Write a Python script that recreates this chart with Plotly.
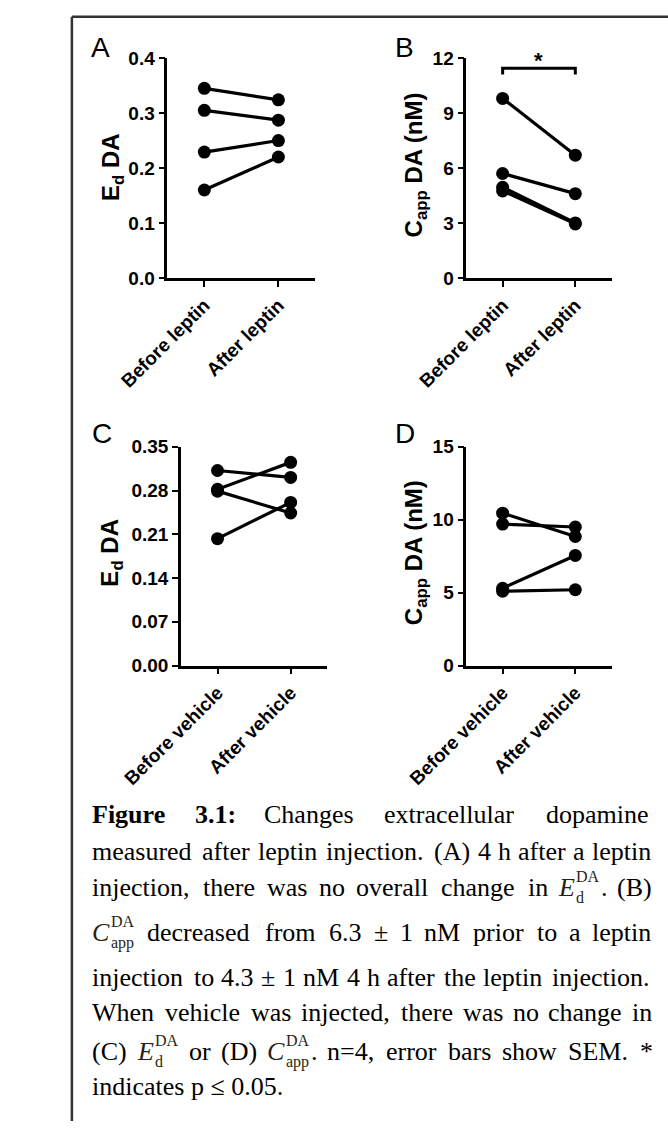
import plotly.graph_objects as go

W, H = 668, 1132

# ---------------- data ----------------
leptin_categories = ["Before leptin", "After leptin"]
vehicle_categories = ["Before vehicle", "After vehicle"]

ed_leptin_before = [0.345, 0.305, 0.229, 0.160]
ed_leptin_after = [0.324, 0.287, 0.250, 0.220]

capp_leptin_before = [9.8, 5.7, 4.95, 4.75]
capp_leptin_after = [6.7, 4.6, 3.0, 2.95]

ed_vehicle_before = [0.312, 0.282, 0.279, 0.203]
ed_vehicle_after = [0.301, 0.325, 0.244, 0.261]

capp_vehicle_before = [10.45, 9.7, 5.3, 5.1]
capp_vehicle_after = [8.85, 9.5, 7.55, 5.2]

ed_leptin_ticks = [0.0, 0.1, 0.2, 0.3, 0.4]
capp_leptin_ticks = [0, 3, 6, 9, 12]
ed_vehicle_ticks = [0.00, 0.07, 0.14, 0.21, 0.28, 0.35]
capp_vehicle_ticks = [0, 5, 10, 15]

sig_bracket_y = 11.45
sig_bracket_drop = 0.35
sig_star_y = 11.85

# ---------------- layout helpers ----------------
def px(x):
    return x / W


def py(y):
    return 1 - y / H


panels = [
    dict(letter="A", x0=117, x1=280, ytop=49, ybot=273, cats=leptin_categories,
         before=ed_leptin_before, after=ed_leptin_after, ticks=ed_leptin_ticks,
         fmt="{:.1f}", title="E<sub>d</sub> DA", title_xy=(56, 160), letter_xy=(43, 38)),
    dict(letter="B", x0=446, x1=606, ytop=49, ybot=273, cats=leptin_categories,
         before=capp_leptin_before, after=capp_leptin_after, ticks=capp_leptin_ticks,
         fmt="{:.0f}", title="C<sub>app</sub> DA (nM)", title_xy=(390, 158), letter_xy=(378, 38)),
    dict(letter="C", x0=132, x1=293, ytop=445, ybot=668, cats=vehicle_categories,
         before=ed_vehicle_before, after=ed_vehicle_after, ticks=ed_vehicle_ticks,
         fmt="{:.2f}", title="E<sub>d</sub> DA", title_xy=(56, 553), letter_xy=(45, 432)),
    dict(letter="D", x0=446, x1=606, ytop=445, ybot=668, cats=vehicle_categories,
         before=capp_vehicle_before, after=capp_vehicle_after, ticks=capp_vehicle_ticks,
         fmt="{:.0f}", title="C<sub>app</sub> DA (nM)", title_xy=(390, 553), letter_xy=(379, 432)),
]

fig = go.Figure()
layout = dict(
    width=W, height=H, margin=dict(l=0, r=0, t=0, b=0),
    paper_bgcolor="white", plot_bgcolor="white", showlegend=False,
)
annotations = []
SANS = "Liberation Sans, Arial, sans-serif"

for i, p in enumerate(panels, start=1):
    xa = "x" if i == 1 else f"x{i}"
    ya = "y" if i == 1 else f"y{i}"
    for b, a in zip(p["before"], p["after"]):
        fig.add_trace(go.Scatter(
            x=p["cats"], y=[b, a], mode="lines+markers",
            line=dict(color="black", width=3.2),
            marker=dict(size=13, color="black"),
            xaxis=xa, yaxis=ya, cliponaxis=False, hoverinfo="skip",
        ))
    layout[f"xaxis{'' if i == 1 else i}"] = dict(
        domain=[px(p["x0"]), px(p["x1"])], anchor=ya,
        type="category", categoryorder="array", categoryarray=p["cats"],
        range=[-0.5, 1.5], showline=True, linewidth=2.5, linecolor="black",
        ticks="outside", ticklen=6, tickwidth=2, tickcolor="black",
        showgrid=False, zeroline=False, tickangle=-45,
        tickfont=dict(family=SANS, size=19, color="black", weight="bold"),
    )
    layout[f"yaxis{'' if i == 1 else i}"] = dict(
        domain=[py(p["ybot"]), py(p["ytop"])], anchor=xa,
        range=[p["ticks"][0], p["ticks"][-1]],
        tickvals=p["ticks"], ticktext=[p["fmt"].format(t) for t in p["ticks"]],
        showline=True, linewidth=2.5, linecolor="black",
        ticks="outside", ticklen=6, tickwidth=2, tickcolor="black",
        showgrid=False, zeroline=False,
        tickfont=dict(family=SANS, size=19, color="black", weight="bold"),
    )
    annotations.append(dict(
        xref="paper", yref="paper", x=px(p["title_xy"][0]), y=py(p["title_xy"][1]),
        text=f"<b>{p['title']}</b>", textangle=-90, showarrow=False,
        xanchor="center", yanchor="middle",
        font=dict(family=SANS, size=24, color="black"),
    ))
    annotations.append(dict(
        xref="paper", yref="paper", x=px(p["letter_xy"][0]), y=py(p["letter_xy"][1]),
        text=p["letter"], showarrow=False, xanchor="center", yanchor="middle",
        font=dict(family=SANS, size=28, color="black"),
    ))

# significance bracket on panel B
c0, c1 = leptin_categories
fig.add_trace(go.Scatter(
    x=[c0, c0, c1, c1],
    y=[sig_bracket_y - sig_bracket_drop, sig_bracket_y, sig_bracket_y, sig_bracket_y - sig_bracket_drop],
    mode="lines", line=dict(color="black", width=3), xaxis="x2", yaxis="y2",
    cliponaxis=False, hoverinfo="skip",
))
annotations.append(dict(
    xref="x2", yref="y2", x=0.5, y=sig_star_y, text="<b>*</b>", showarrow=False,
    xanchor="center", yanchor="middle", font=dict(family=SANS, size=22, color="black"),
))

# ---------------- caption (justified, word by word) ----------------
SERIF = "Liberation Serif, Times New Roman, serif"
FS = 26
SUBFS = 16
K = 1.15  # safety factor on the estimated word widths
TIMES = {
    " ": 250, "!": 333, "(": 333, ")": 333, "*": 500, "+": 564, ",": 250, "-": 333,
    ".": 250, "/": 278, ":": 278, ";": 278, "=": 564, "±": 564, "≤": 549,
    "A": 722, "B": 667, "C": 667, "D": 722, "E": 611, "F": 556, "G": 722, "H": 722,
    "I": 333, "J": 389, "K": 722, "L": 611, "M": 889, "N": 722, "O": 722, "P": 556,
    "Q": 722, "R": 667, "S": 556, "T": 611, "U": 722, "V": 722, "W": 944, "X": 722,
    "Y": 722, "Z": 611,
    "a": 444, "b": 500, "c": 444, "d": 500, "e": 444, "f": 333, "g": 500, "h": 500,
    "i": 278, "j": 278, "k": 500, "l": 278, "m": 778, "n": 500, "o": 500, "p": 500,
    "q": 500, "r": 333, "s": 389, "t": 278, "u": 500, "v": 500, "w": 722, "x": 500,
    "y": 500, "z": 444,
}
for d in "0123456789":
    TIMES[d] = 500
TIMES_BOLD = dict(TIMES)
TIMES_BOLD.update({"F": 611, "u": 556, "r": 444, ":": 333})

MATH = {"{Ed}": ("E", "d", "DA"), "{Capp}": ("C", "app", "DA")}
MATH_COLOR = "#2a1f14"


def text_w(s, table, size):
    return K * sum(table.get(ch, 500) for ch in s) / 1000 * size


def token_info(tok):
    for key, (base, sub, sup) in MATH.items():
        if tok.startswith(key):
            rest = tok[len(key):]
            bw = text_w(base, TIMES, FS) + 1
            ew = max(text_w(sub, TIMES, SUBFS), text_w(sup, TIMES, SUBFS)) + 1
            return dict(kind="math", base=base, sub=sub, sup=sup, rest=rest,
                        bw=bw, ew=ew, w=bw + ew + text_w(rest, TIMES, FS))
    if tok.startswith("**"):
        t = tok.strip("*")
        return dict(kind="bold", text=t, w=text_w(t, TIMES_BOLD, FS))
    return dict(kind="plain", text=tok, w=text_w(tok, TIMES, FS))


caption_lines = [
    "**Figure** **3.1:** Changes extracellular dopamine",
    "measured after leptin injection. (A) 4 h after a leptin",
    "injection, there was no overall change in {Ed}. (B)",
    "{Capp} decreased from 6.3 ± 1 nM prior to a leptin",
    "injection to 4.3 ± 1 nM 4 h after the leptin injection.",
    "When vehicle was injected, there was no change in",
    "(C) {Ed} or (D) {Capp}. n=4, error bars show SEM. *",
]
last_caption_line = "indicates p ≤ 0.05."
caption_y = [820, 857, 894, 940, 986, 1021, 1061]
last_caption_y = 1097
CAP_X0, CAP_X1 = 33, 651


def word_ann(x, y, text, size=FS, color="black"):
    return dict(xref="paper", yref="paper", x=px(x), y=py(y), text=text,
                showarrow=False, xanchor="left", yanchor="middle", align="left",
                borderpad=0, font=dict(family=SERIF, size=size, color=color))


for line, yc in zip(caption_lines, caption_y):
    toks = [token_info(t) for t in line.split(" ")]
    total = sum(t["w"] for t in toks)
    gap = (CAP_X1 - CAP_X0 - total) / (len(toks) - 1)
    x = CAP_X0
    for t in toks:
        if t["kind"] == "math":
            annotations.append(word_ann(x, yc, f"<i>{t['base']}</i>", color=MATH_COLOR))
            # superscript stacked above subscript, in one block
            annotations.append(word_ann(x + t["bw"], yc, f"{t['sup']}<br>{t['sub']}",
                                        size=SUBFS, color=MATH_COLOR))
            if t["rest"]:
                annotations.append(word_ann(x + t["bw"] + t["ew"], yc, t["rest"]))
        elif t["kind"] == "bold":
            annotations.append(word_ann(x, yc, f"<b>{t['text']}</b>"))
        else:
            annotations.append(word_ann(x, yc, t["text"]))
        x += t["w"] + gap

annotations.append(word_ann(CAP_X0, last_caption_y, last_caption_line))

layout["annotations"] = annotations
layout["shapes"] = [
    dict(type="line", xref="paper", yref="paper", x0=px(12), x1=px(12), y0=py(7), y1=0,
         line=dict(color="#333333", width=2.5)),
    dict(type="line", xref="paper", yref="paper", x0=px(12), x1=1, y0=py(7), y1=py(7),
         line=dict(color="#333333", width=2.5)),
]
fig.update_layout(**layout)
fig.write_html("out.html")
